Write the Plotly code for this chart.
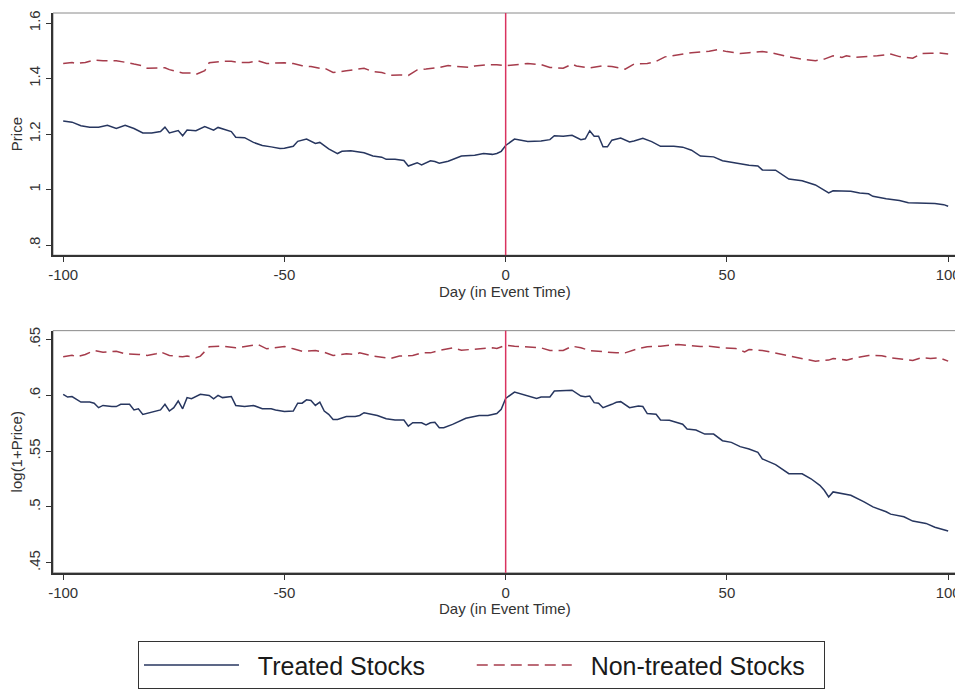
import plotly.graph_objects as go

# ---- data ----
day_top_treated = [-100,-98,-96,-94,-92,-90,-88,-86,-84,-82,-80,-78,-77,-76,-74,-73,-72,-70,-68,-66,-65,-62,-61,-59,-57,-55,-53,-51,-50,-48,-47,-45,-43,-42,-40,-38,-37,-35,-32,-30,-28,-27,-25,-23,-22,-20,-19,-17,-16,-15,-13,-10,-7,-5,-3,-2,-1,0,2,5,8,10,11,13,15,17,18,19,20,21,22,23,24,26,28,29,31,33,35,38,40,42,44,47,49,52,55,57,58,61,64,67,70,73,74,78,80,82,83,86,89,91,94,97,99,100]
price_treated = [1.247,1.243,1.230,1.225,1.225,1.232,1.220,1.232,1.220,1.204,1.204,1.209,1.225,1.204,1.213,1.194,1.215,1.212,1.227,1.214,1.224,1.209,1.189,1.187,1.170,1.159,1.154,1.148,1.149,1.156,1.174,1.182,1.166,1.170,1.147,1.130,1.138,1.140,1.133,1.121,1.117,1.109,1.109,1.105,1.085,1.097,1.089,1.104,1.101,1.095,1.102,1.121,1.124,1.130,1.127,1.130,1.138,1.159,1.182,1.173,1.175,1.180,1.194,1.192,1.196,1.180,1.183,1.212,1.192,1.192,1.154,1.154,1.178,1.186,1.172,1.175,1.185,1.173,1.156,1.156,1.153,1.142,1.121,1.118,1.104,1.095,1.088,1.085,1.071,1.070,1.038,1.032,1.017,0.988,0.996,0.994,0.988,0.985,0.976,0.967,0.961,0.953,0.952,0.950,0.946,0.940]

day_top_control = [-100,-98,-97,-95,-93,-91,-88,-87,-85,-84,-82,-81,-79,-77,-76,-73,-71,-70,-68,-67,-64,-62,-60,-58,-56,-54,-52,-50,-48,-46,-44,-42,-41,-39,-36,-34,-32,-30,-28,-26,-24,-22,-20,-18,-15,-13,-11,-8,-7,-4,-2,0,2,5,8,10,13,15,16,19,22,24,27,29,32,34,36,40,42,46,48,50,53,55,58,60,62,64,67,70,72,74,76,77,79,82,84,87,89,92,94,96,98,100]
price_control = [1.454,1.458,1.454,1.458,1.467,1.464,1.464,1.462,1.456,1.452,1.446,1.437,1.437,1.439,1.432,1.420,1.420,1.415,1.428,1.457,1.462,1.462,1.458,1.458,1.464,1.454,1.456,1.457,1.454,1.446,1.443,1.437,1.438,1.422,1.428,1.432,1.437,1.425,1.422,1.412,1.413,1.411,1.431,1.434,1.440,1.447,1.443,1.440,1.445,1.450,1.450,1.446,1.449,1.454,1.450,1.440,1.437,1.452,1.445,1.438,1.446,1.443,1.434,1.452,1.454,1.462,1.478,1.488,1.493,1.498,1.504,1.497,1.490,1.493,1.497,1.493,1.485,1.478,1.470,1.464,1.470,1.482,1.476,1.482,1.476,1.479,1.482,1.488,1.479,1.473,1.490,1.491,1.492,1.488]

day_bot_treated = [-100,-99,-98,-96,-94,-93,-92,-91,-89,-88,-87,-85,-84,-83,-82,-80,-78,-77,-76,-75,-74,-73,-72,-71,-69,-67,-66,-65,-64,-62,-61,-59,-57,-55,-53,-52,-50,-48,-47,-46,-45,-44,-43,-42,-41,-40,-39,-38,-36,-34,-33,-32,-30,-29,-27,-25,-23,-22,-21,-19,-18,-17,-16,-15,-14,-12,-9,-6,-4,-2,-1,0,2,4,7,8,10,11,15,17,18,19,20,21,22,24,25,26,28,30,31,32,34,35,37,40,41,43,45,47,49,51,53,55,57,58,60,61,64,67,69,71,72,73,74,78,81,83,86,87,90,92,95,97,100]
logp_treated = [.6010,.5985,.5990,.5940,.5940,.5930,.5890,.5910,.5900,.5900,.5920,.5920,.5870,.5880,.5830,.5850,.5870,.5920,.5860,.5890,.5950,.5880,.5980,.5970,.6010,.6000,.5970,.6000,.5980,.5990,.5910,.5900,.5910,.5880,.5880,.5870,.5855,.5860,.5930,.5930,.5960,.5955,.5910,.5940,.5860,.5830,.5785,.5785,.5810,.5810,.5820,.5845,.5830,.5820,.5790,.5780,.5780,.5725,.5755,.5755,.5735,.5755,.5760,.5710,.5710,.5740,.5795,.5820,.5820,.5837,.5876,.5973,.6030,.6009,.5973,.5985,.5985,.6039,.6047,.5994,.5988,.5994,.5935,.5929,.5890,.5920,.5938,.5944,.5890,.5905,.5900,.5837,.5831,.5780,.5778,.5742,.5698,.5689,.5653,.5653,.5594,.5579,.5541,.5520,.5490,.5431,.5401,.5380,.5298,.5298,.5253,.5194,.5150,.5090,.5135,.5105,.5046,.5001,.4957,.4936,.4913,.4874,.4853,.4818,.4785]

day_bot_control = [-100,-98,-97,-95,-93,-91,-88,-86,-83,-81,-79,-78,-76,-73,-72,-70,-69,-67,-64,-61,-60,-58,-56,-54,-52,-50,-48,-46,-43,-41,-39,-36,-34,-33,-30,-28,-26,-24,-21,-19,-17,-15,-12,-10,-8,-5,-3,-2,0,2,5,8,10,13,15,17,19,22,25,27,30,32,35,39,41,44,46,49,52,54,55,58,60,63,65,68,70,73,74,77,79,82,85,87,90,92,94,96,98,100]
logp_control = [.6346,.6360,.6346,.6367,.6402,.6387,.6396,.6373,.6367,.6358,.6373,.6390,.6358,.6346,.6352,.6337,.6352,.6435,.6441,.6426,.6432,.6447,.6456,.6417,.6426,.6438,.6417,.6396,.6402,.6387,.6358,.6373,.6367,.6381,.6352,.6343,.6331,.6352,.6358,.6381,.6381,.6402,.6426,.6405,.6411,.6420,.6426,.6420,.6450,.6441,.6432,.6426,.6402,.6402,.6441,.6426,.6402,.6390,.6381,.6381,.6420,.6435,.6441,.6456,.6450,.6438,.6441,.6426,.6420,.6390,.6411,.6402,.6387,.6361,.6343,.6322,.6307,.6316,.6331,.6316,.6337,.6358,.6355,.6337,.6322,.6313,.6337,.6331,.6337,.6307]

x_ticks = [-100, -50, 0, 50, 100]
x_tick_text = ["-100", "-50", "0", "50", "100"]
top_ticks = [0.8, 1.0, 1.2, 1.4, 1.6]
top_tick_text = [".8", "1", "1.2", "1.4", "1.6"]
bot_ticks = [0.45, 0.50, 0.55, 0.60, 0.65]
bot_tick_text = [".45", ".5", ".55", ".6", ".65"]
legend_names = ["Treated Stocks", "Non-treated Stocks"]
x_title = "Day (in Event Time)"
event_day = 0

NAVY = "#27365f"
MAROON = "#a63c4c"
VLINE = "#d9335f"
FONT_FAM = "Liberation Sans, Arial, sans-serif"
AXIS_FONT = dict(family=FONT_FAM, size=15, color="#333333")
NB = "\u00a0"
DASH = "11px,6px"

fig = go.Figure()
fig.add_trace(go.Scatter(x=day_top_treated, y=price_treated, mode="lines",
                         name=NB * 2 + legend_names[0] + NB * 6,
                         line=dict(color=NAVY, width=1.5), xaxis="x", yaxis="y", legendgroup="t"))
fig.add_trace(go.Scatter(x=day_top_control, y=price_control, mode="lines",
                         name=NB * 2 + legend_names[1] + NB * 2,
                         line=dict(color=MAROON, width=1.5, dash=DASH), xaxis="x", yaxis="y", legendgroup="c"))
fig.add_trace(go.Scatter(x=day_bot_treated, y=logp_treated, mode="lines", name=legend_names[0], showlegend=False,
                         line=dict(color=NAVY, width=1.5), xaxis="x2", yaxis="y2", legendgroup="t"))
fig.add_trace(go.Scatter(x=day_bot_control, y=logp_control, mode="lines", name=legend_names[1], showlegend=False,
                         line=dict(color=MAROON, width=1.5, dash=DASH), xaxis="x2", yaxis="y2", legendgroup="c"))

xcommon = dict(range=[-102.3, 102.0], tickvals=x_ticks, ticktext=x_tick_text, ticks="outside", ticklen=5,
               tickcolor="#333333", showline=True, linecolor="#333333", linewidth=1.5, showgrid=False,
               zeroline=False, tickfont=AXIS_FONT)
ycommon = dict(ticks="outside", ticklen=5, tickcolor="#333333", tickangle=-90,
               showline=True, linecolor="#333333", linewidth=1.5, showgrid=False, zeroline=False,
               tickfont=AXIS_FONT)

fig.update_layout(
    width=955, height=682,
    margin=dict(l=45, r=6, t=1, b=1),
    paper_bgcolor="white", plot_bgcolor="white",
    xaxis=dict(domain=[0, 1], anchor="y", **xcommon),
    yaxis=dict(domain=[0.6412, 1.0], anchor="x", range=[0.764, 1.636], tickvals=top_ticks, ticktext=top_tick_text,
               title=dict(text="Price", font=AXIS_FONT, standoff=2), **ycommon),
    xaxis2=dict(domain=[0, 1], anchor="y2", **xcommon),
    yaxis2=dict(domain=[0.1706, 0.5294], anchor="x2", range=[0.441, 0.658], tickvals=bot_ticks, ticktext=bot_tick_text,
                title=dict(text="log(1+Price)", font=AXIS_FONT, standoff=2), **ycommon),
    showlegend=True,
    legend=dict(orientation="h", x=0.094, xanchor="left", y=0.0691, yanchor="top",
                bordercolor="#333333", borderwidth=1, bgcolor="white",
                font=dict(family=FONT_FAM, size=25, color="#1a1a1a"),
                itemwidth=95, traceorder="normal"),
)

for xr, yr in (("x", "y"), ("x2", "y2")):
    # light frame on top/right of each panel
    fig.add_shape(type="rect", xref=f"{xr} domain", yref=f"{yr} domain", x0=0, x1=1, y0=0, y1=1,
                  line=dict(color="#8a8a8a", width=1), layer="below")
    # event-day reference line
    fig.add_shape(type="line", xref=xr, yref=f"{yr} domain", x0=event_day, x1=event_day, y0=0, y1=1,
                  line=dict(color=VLINE, width=1.5))
    # x-axis title
    fig.add_annotation(text=x_title, xref=f"{xr} domain", yref=f"{yr} domain", x=0.5, y=0,
                       xanchor="center", yanchor="middle", yshift=-36, showarrow=False, font=AXIS_FONT,
                       borderpad=0)

fig.write_html("out.html")
